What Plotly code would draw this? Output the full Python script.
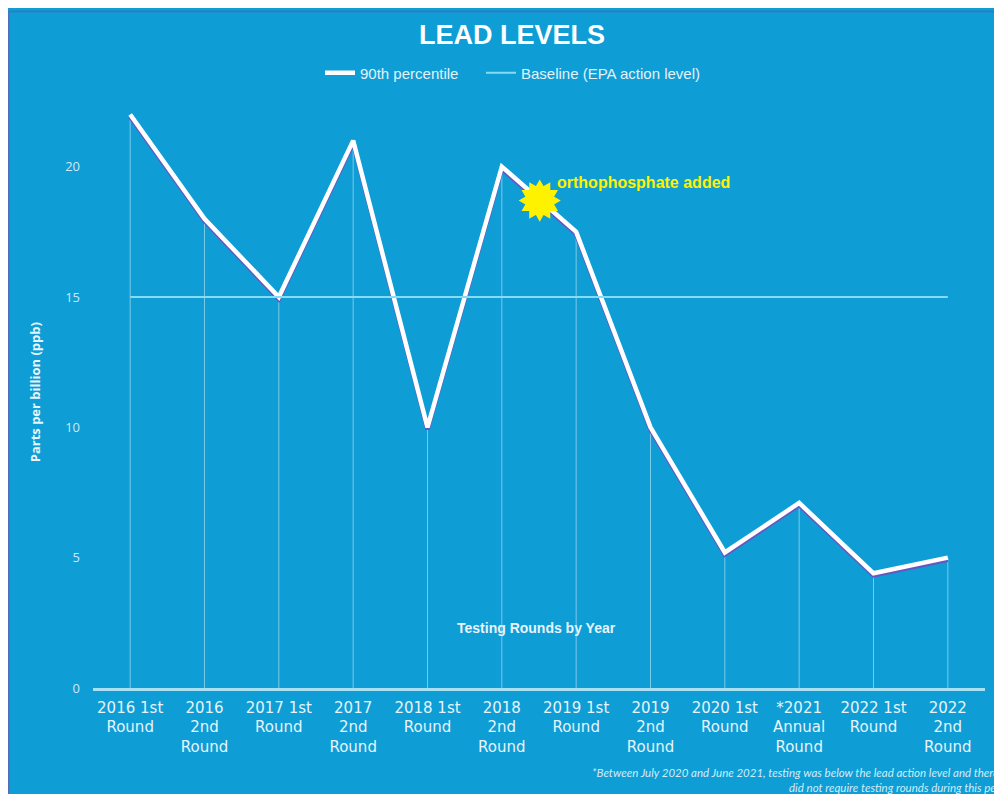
import plotly.graph_objects as go

categories = ["2016 1st<br>Round", "2016<br>2nd<br>Round", "2017 1st<br>Round", "2017<br>2nd<br>Round",
              "2018 1st<br>Round", "2018<br>2nd<br>Round", "2019 1st<br>Round", "2019<br>2nd<br>Round",
              "2020 1st<br>Round", "*2021<br>Annual<br>Round", "2022 1st<br>Round", "2022<br>2nd<br>Round"]
percentile90 = [22, 18, 15, 21, 10, 20, 17.5, 10, 5.2, 7.1, 4.4, 5.0]
baseline = [15, 15, 15, 15, 15, 15, 15, 15, 15, 15, 15, 15]
ytick_vals = [0, 5, 10, 15, 20]

BG = "#0e9dd5"
xs = list(range(len(categories)))
YR = [0, 22.5]

# plot-area geometry (figure pixels)
L, R, T, B = 85, 25, 91, 114
PW, PH = 1002 - L - R, 794 - T - B


def px(xpix):
    return (xpix - L) / PW


def py(ypix):
    return (794 - B - ypix) / PH


fig = go.Figure()

# drop lines from each point to the axis
fig.add_trace(go.Scatter(
    x=xs, y=percentile90, mode="markers", marker=dict(size=0.1, color="rgba(0,0,0,0)"),
    error_y=dict(type="data", symmetric=False, array=[0]*len(xs), arrayminus=percentile90,
                 color="rgba(255,255,255,0.45)", thickness=1, width=0),
    showlegend=False, hoverinfo="skip"))

# shadow of main line (same data on a slightly shifted axis)
fig.add_trace(go.Scatter(
    x=xs, y=percentile90, mode="lines", yaxis="y2",
    line=dict(color="#6657c0", width=4.5), showlegend=False, hoverinfo="skip"))

fig.add_trace(go.Scatter(
    x=xs, y=percentile90, mode="lines", name="90th percentile", yaxis="y3",
    line=dict(color="white", width=4.5), legend="legend"))

fig.add_trace(go.Scatter(
    x=xs, y=baseline, mode="lines", name="Baseline (EPA action level)", yaxis="y3",
    line=dict(color="#86dcf3", width=2), legend="legend2"))

# orthophosphate starburst
for ang in (0, 30):
    fig.add_trace(go.Scatter(
        x=[5.51], y=[18.7], mode="markers", yaxis="y3",
        marker=dict(symbol="hexagram", size=32, angle=ang, color="#fff200", line=dict(width=0)),
        showlegend=False, hoverinfo="skip"))

leg_common = dict(orientation="h", xref="container", xanchor="left",
                  y=1 - 65/794, yref="container", yanchor="middle",
                  font=dict(size=15, color="#e2f2fa"), bgcolor="rgba(0,0,0,0)", itemwidth=30)

fig.update_layout(
    width=1002, height=794,
    margin=dict(l=L, r=R, t=T, b=B),
    paper_bgcolor=BG, plot_bgcolor=BG,
    font=dict(family="Liberation Sans, Arial, sans-serif", color="white"),
    title=dict(text="<b>LEAD LEVELS</b>", x=0.503, xref="container", xanchor="center",
               y=1 - 27/794, yref="container", yanchor="middle",
               font=dict(size=27, color="white", family="Liberation Sans, Arial, sans-serif")),
    legend=dict(x=(317 - 5) / 1002, **leg_common),
    legend2=dict(x=(479 - 6) / 1002, **leg_common),
    xaxis=dict(range=[-0.5, 11.5], tickmode="array", tickvals=xs, ticktext=categories,
               showgrid=False, zeroline=False, showline=True, linecolor="#a8e0f4", linewidth=2.5,
               ticks="", ticklabelstandoff=4,
               tickfont=dict(size=15, color="#e6f4fb", family="DejaVu Sans, sans-serif"),
               tickangle=0, fixedrange=True),
    yaxis=dict(range=YR, tickmode="array", tickvals=ytick_vals,
               showgrid=False, zeroline=False, showline=False, ticks="",
               ticklabelstandoff=12,
               tickfont=dict(size=13, color="#cde9f6", family="Open Sans, sans-serif")),
    yaxis2=dict(range=[YR[0] + 0.08, YR[1] + 0.08], overlaying="y", visible=False),
    yaxis3=dict(range=YR, overlaying="y", visible=False),
    shapes=[
        dict(type="line", xref="paper", yref="paper", x0=px(0), x1=px(1002),
             y0=py(0.5), y1=py(0.5), line=dict(color="#5866b4", width=1.5)),
        dict(type="line", xref="paper", yref="paper", x0=px(0.5), x1=px(0.5),
             y0=py(0), y1=py(794), line=dict(color="#4f70b8", width=1.5)),
    ],
    annotations=[
        dict(text="<b>Parts per billion (ppb)</b>", x=px(27), y=py(383), xref="paper", yref="paper",
             textangle=-90, xanchor="center", yanchor="middle", showarrow=False,
             font=dict(size=13, color="#e6f4fb", family="Open Sans, sans-serif")),
        dict(text="<b>orthophosphate added</b>", x=5.72, y=19.4, xref="x", yref="y",
             xanchor="left", yanchor="middle", showarrow=False,
             font=dict(size=16, color="#fff200", family="Liberation Sans, Arial, sans-serif")),
        dict(text="<b>Testing Rounds by Year</b>", x=px(528), y=py(620),
             xref="paper", yref="paper", xanchor="center", yanchor="middle", showarrow=False,
             font=dict(size=14, color="#e6f4fb")),
        dict(text="<i>*Between July 2020 and June 2021, testing was below the lead action level and therefore<br>"
                  "did not require testing rounds during this period.</i>",
             x=px(1012), y=py(772.5), xref="paper", yref="paper",
             xanchor="right", yanchor="middle", align="right", showarrow=False,
             font=dict(size=11.5, color="#d2ecf8", family="Lato, sans-serif")),
    ],
)

fig.write_html("out.html")
